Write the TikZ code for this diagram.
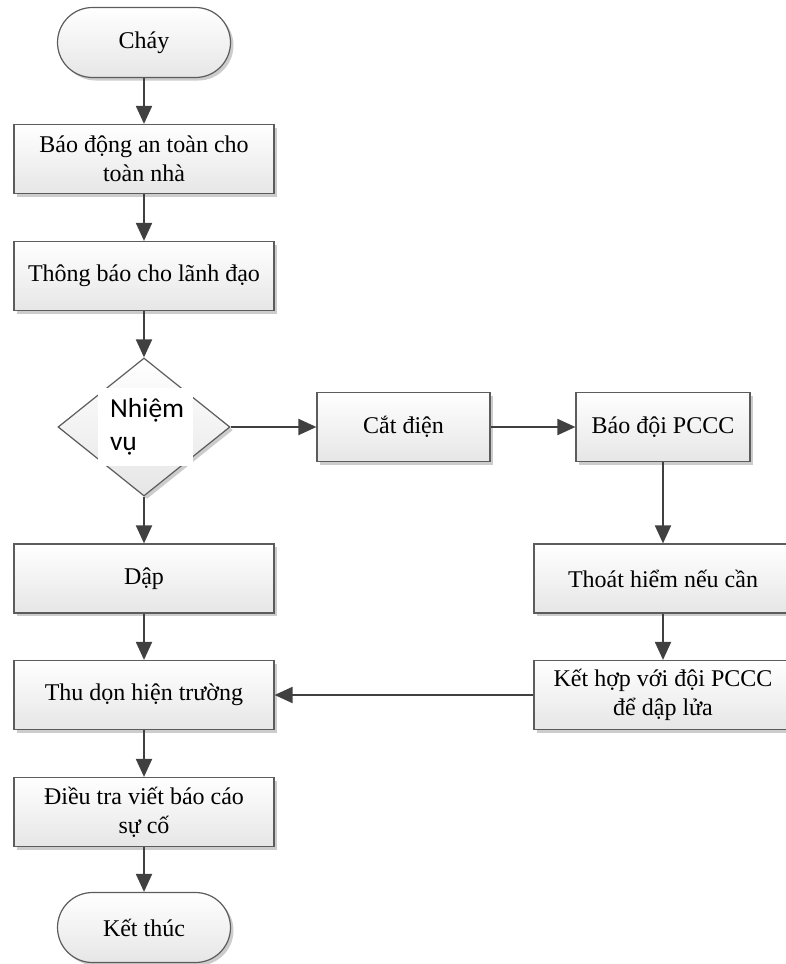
\documentclass[tikz,border=0pt]{standalone}
\usepackage{fontspec}
\setmainfont{Liberation Serif}
\newfontfamily\calibrifont{Carlito}
\usetikzlibrary{arrows.meta,shapes.geometric,shadows}

\definecolor{edgegray}{HTML}{5C5C5C}
\definecolor{boxbottom}{HTML}{E6E6E6}
\definecolor{arrowgray}{HTML}{404040}

\begin{document}
\begin{tikzpicture}[x=1pt,y=-1pt,
  every node/.style={font=\fontsize{24}{29}\selectfont, text=black},
  boxshadow/.style={drop shadow={shadow xshift=3pt, shadow yshift=-3pt, fill=black, opacity=0.2}},
  procbox/.style={draw=edgegray, line width=1.2pt, top color=white, bottom color=boxbottom,
    inner sep=0pt, align=center, boxshadow},
  termbox/.style={procbox, minimum width=173pt, minimum height=70pt, rounded corners=35pt},
  leftbox/.style={procbox, minimum width=260pt, minimum height=69pt},
  flow/.style={draw=arrowgray, line width=2pt, -{Triangle[length=18pt,width=16pt]}}
]
\useasboundingbox (0,0) rectangle (786,964);

% left column
\node[termbox] (start) at (144,42.5) {Cháy};
\node[leftbox] (alarm) at (144,159) {Báo động an toàn cho\\toàn nhà};
\node[leftbox] (notify) at (144,276) {Thông báo cho lãnh đạo};
\node[procbox, shape=diamond, minimum width=172pt, minimum height=138pt] (task) at (144,427) {};
\node[fill=white, inner sep=0pt, minimum width=95pt, minimum height=78pt, text width=71pt,
      align=left, font=\calibrifont\fontsize{27.5}{33}\selectfont] (tasklabel) at (145.5,427) {Nhiệm\\vụ};
\node[leftbox] (extinguish) at (144,578.5) {Dập};
\node[leftbox] (clean) at (144,695) {Thu dọn hiện trường};
\node[leftbox] (report) at (144,812) {Điều tra viết báo cáo\\sự cố};
\node[termbox] (stop) at (144,927.5) {Kết thúc};

% right branch
\node[procbox, minimum width=173pt, minimum height=69pt] (power) at (403.5,427) {Cắt điện};
\node[procbox, minimum width=174pt, minimum height=69pt] (firedept) at (663,427) {Báo đội PCCC};
\node[procbox, minimum width=258pt, minimum height=69pt] (evacuate) at (663,578.5) {Thoát hiểm nếu cần};
\node[procbox, minimum width=258pt, minimum height=69pt] (joint) at (663,695) {Kết hợp với đội PCCC\\để dập lửa};

% connectors
\draw[flow] (start) -- (alarm);
\draw[flow] (alarm) -- (notify);
\draw[flow] (notify) -- (task.north);
\draw[flow] (task.east) -- (power);
\draw[flow] (power) -- (firedept);
\draw[flow] (firedept) -- (evacuate);
\draw[flow] (evacuate) -- (joint);
\draw[flow] (joint) -- (clean);
\draw[flow] (task.south) -- (extinguish);
\draw[flow] (extinguish) -- (clean);
\draw[flow] (clean) -- (report);
\draw[flow] (report) -- (stop);
\end{tikzpicture}
\end{document}
